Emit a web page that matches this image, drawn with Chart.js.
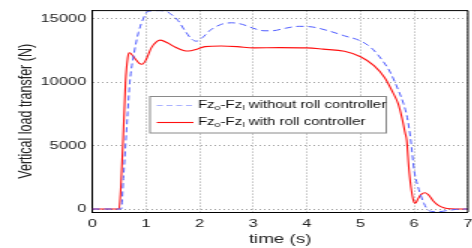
<!DOCTYPE html>
<html>
<head>
<meta charset="utf-8">
<script src="https://cdn.jsdelivr.net/npm/chart.js@4.4.1/dist/chart.umd.min.js"></script>
<style>
  html, body { margin: 0; padding: 0; background: #fff; overflow: hidden; }
  #wrap { position: absolute; left: 0; top: 0; width: 320px; height: 248px;
          transform: scaleX(1.5); transform-origin: 0 0; }
</style>
</head>
<body>
<div id="wrap"><canvas id="chart" width="320" height="248"></canvas></div>
<script>
// time (s) / vertical load transfer (N)
const timeWithout = [0, 0.54, 0.58, 0.62, 0.66, 0.7, 0.78, 0.86, 0.95, 1.03, 1.15, 1.25, 1.39, 1.5, 1.6, 1.72,
  1.85, 1.94, 2.05, 2.2, 2.4, 2.6, 2.8, 3.0, 3.2, 3.35, 3.6, 3.85, 4.1, 4.4, 4.7, 5.0, 5.2, 5.4, 5.55,
  5.7, 5.8, 5.87, 5.93, 6.0, 6.06, 6.12, 6.18, 6.24, 6.32, 6.45, 6.6, 6.8, 7.0];
const loadWithout = [0, 0, 2400, 5000, 7600, 10000, 12300, 13900, 15000, 15560, 15630, 15640, 15560, 15250, 14850, 14100,
  13400, 13230, 13500, 14100, 14550, 14680, 14550, 14250, 14050, 14050, 14250, 14400, 14350, 14050, 13650, 13250, 12700, 11750, 10800,
  9400, 8300, 7200, 5600, 3000, 1900, 1100, 450, 0, -190, -220, -130, -20, 0];

const timeWith = [0, 0.5, 0.53, 0.57, 0.62, 0.66, 0.69, 0.73, 0.8, 0.87, 0.93, 1.0, 1.1, 1.2, 1.27, 1.4, 1.55, 1.7,
  1.79, 1.95, 2.1, 2.4, 2.7, 3.0, 3.5, 4.0, 4.3, 4.7, 5.0, 5.25, 5.45, 5.6, 5.7, 5.77, 5.83, 5.86, 5.9, 5.95,
  6.0, 6.02, 6.07, 6.13, 6.2, 6.27, 6.35, 6.45, 6.55, 6.67, 7.0];
const loadWith = [0, 0, 1500, 5000, 10000, 11900, 12320, 12200, 11850, 11500, 11410, 11750, 12700, 13200, 13310, 13100, 12750, 12500,
  12450, 12600, 12800, 12850, 12800, 12700, 12720, 12700, 12600, 12430, 12000, 11300, 10350, 9200, 8300, 7200, 6000, 5400, 3200, 1400,
  500, 450, 800, 1150, 1280, 1100, 650, 280, 100, 20, 0];

const seriesNames = ['without roll controller', 'with roll controller'];
const timeTicks = [0, 1, 2, 3, 4, 5, 6, 7];
const loadTicks = [0, 5000, 10000, 15000];

const FONT = '"Liberation Sans", Arial, sans-serif';
const blue = '#4f5cff';
const red = '#ff1010';

function toPoints(xs, ys) {
  return xs.map((x, i) => ({ x: x, y: ys[i] }));
}

// draws the plot frame and the boxed legend with subscripts
const frameLegend = {
  id: 'frameLegend',
  afterDatasetsDraw(chart) {
    const { ctx, chartArea: a } = chart;
    ctx.save();
    ctx.strokeStyle = '#000';
    ctx.lineWidth = 1;
    ctx.beginPath();
    ctx.moveTo(a.left, a.top);
    ctx.lineTo(a.right, a.top);
    ctx.lineTo(a.right, a.bottom);
    ctx.stroke();

    const bx = a.left + 38.5, by = 96.5, bw = 157.5, bh = 36.5;
    ctx.fillStyle = '#fff';
    ctx.fillRect(bx, by, bw, bh);
    ctx.strokeStyle = '#8a8a8a';
    ctx.strokeRect(bx, by, bw, bh);

    const rows = [
      { y: 105.5, color: '#aab2ff', dash: [4, 2.5], width: 1, name: seriesNames[0] },
      { y: 122.5, color: red, dash: [], width: 1.1, name: seriesNames[1] }
    ];
    rows.forEach(r => {
      ctx.strokeStyle = r.color;
      ctx.lineWidth = r.width;
      ctx.setLineDash(r.dash);
      ctx.beginPath();
      ctx.moveTo(bx + 4.5, r.y);
      ctx.lineTo(bx + 29, r.y);
      ctx.stroke();
      ctx.setLineDash([]);

      let x = bx + 32;
      const parts = [['Fz', 0], ['o', 1], ['-Fz', 0], ['l', 1], [' ' + r.name, 0]];
      ctx.fillStyle = '#111';
      ctx.textBaseline = 'middle';
      parts.forEach(([t, sub]) => {
        ctx.font = (sub ? '7px ' : '10px ') + FONT;
        ctx.fillText(t, x, r.y + (sub ? 2.5 : 0));
        x += ctx.measureText(t).width;
      });
    });
    ctx.restore();
  }
};

new Chart(document.getElementById('chart'), {
  type: 'line',
  data: {
    datasets: [
      {
        label: seriesNames[0],
        data: toPoints(timeWithout, loadWithout),
        borderColor: blue,
        borderWidth: 1,
        borderDash: [5, 3],
        pointRadius: 0,
        cubicInterpolationMode: 'monotone',
        fill: false
      },
      {
        label: seriesNames[1],
        data: toPoints(timeWith, loadWith),
        borderColor: red,
        borderWidth: 1.1,
        pointRadius: 0,
        cubicInterpolationMode: 'monotone',
        fill: false
      }
    ]
  },
  options: {
    responsive: false,
    animation: false,
    devicePixelRatio: 1,
    layout: { padding: { top: 9.3, right: 4, left: 0, bottom: 0 } },
    plugins: { legend: { display: false }, tooltip: { enabled: false } },
    scales: {
      x: {
        type: 'linear',
        min: 0,
        max: 7,
        afterBuildTicks: s => { s.ticks = timeTicks.map(v => ({ value: v })); },
        afterFit: s => { s.height = 36; },
        ticks: { font: { family: FONT, size: 11 }, color: '#222', padding: 5, maxRotation: 0,
                 callback: v => String(v) },
        grid: { color: '#a0a0a0', drawTicks: false, lineWidth: 1 },
        border: { color: '#000', width: 1, dash: [1, 2] },
        title: { display: true, text: 'time (s)', font: { family: FONT, size: 12.5 }, color: '#222',
                 padding: { top: 0, bottom: 1 } }
      },
      y: {
        min: -235,
        max: 15640,
        afterBuildTicks: s => { s.ticks = loadTicks.map(v => ({ value: v })); },
        afterFit: s => { s.width = 61.5; },
        ticks: { font: { family: FONT, size: 11 }, color: '#222', padding: 4,
                 callback: v => String(v) },
        grid: { color: '#a0a0a0', drawTicks: false, lineWidth: 1 },
        border: { color: '#000', width: 1, dash: [1, 2] },
        title: { display: true, text: 'Vertical load transfer (N)', font: { family: FONT, size: 12.5 }, color: '#222',
                 padding: { top: 10.5, bottom: 0 } }
      }
    }
  },
  plugins: [frameLegend]
});
</script>
</body>
</html>
